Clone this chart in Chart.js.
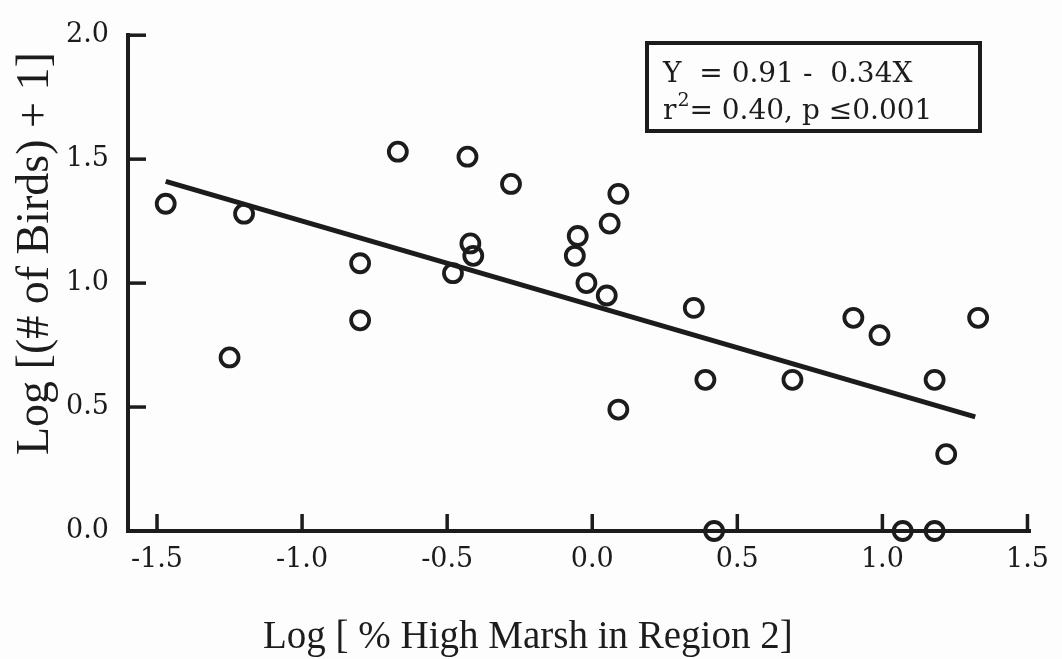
<!DOCTYPE html>
<html>
<head>
<meta charset="utf-8">
<script src="https://cdn.jsdelivr.net/npm/chart.js@4/dist/chart.umd.min.js"></script>
<style>
  html, body { margin: 0; padding: 0; background: #fdfdfd; }
  canvas { display: block; }
</style>
</head>
<body>
<canvas id="marsh" width="1062" height="659"></canvas>
<script>
// Values
const marshPct = [-1.47, -1.20, -1.25, -0.80, -0.67, -0.48, -0.43, -0.42, -0.41, -0.28,
                  -0.06, -0.05, -0.02, 0.05, 0.06, 0.09, 0.09, 0.35, 0.39, 0.42,
                  0.69, 0.90, 0.99, 1.33, 1.18, 1.22, 1.07, 1.18, -0.80];
const birds = [1.32, 1.28, 0.70, 1.08, 1.53, 1.04, 1.51, 1.16, 1.11, 1.40,
               1.11, 1.19, 1.00, 0.95, 1.24, 1.36, 0.49, 0.90, 0.61, 0.00,
               0.61, 0.86, 0.79, 0.86, 0.61, 0.31, 0.00, 0.00, 0.85];

// regression line ends (Y = 0.91 - 0.34X)
const fitX = [-1.47, 1.32];
const fitY = [1.41, 0.46];

const xTicks = [-1.5, -1.0, -0.5, 0.0, 0.5, 1.0, 1.5];
const yTicks = [0.0, 0.5, 1.0, 1.5, 2.0];

const ink = '#1c1c1c';

Chart.defaults.font.family = '"DejaVu Serif", serif';
Chart.defaults.color = ink;

// tick marks point into the plot, like the original
const innerTicks = {
    id: 'innerTicks',
    beforeDatasetsDraw(chart) {
        const { ctx, chartArea: a, scales: { x, y } } = chart;
        ctx.save();
        ctx.strokeStyle = ink;
        ctx.lineWidth = 3.5;
        xTicks.forEach(v => {
            const px = x.getPixelForValue(v);
            ctx.beginPath();
            ctx.moveTo(px, a.bottom);
            ctx.lineTo(px, a.bottom - 17);
            ctx.stroke();
        });
        yTicks.forEach(v => {
            const py = y.getPixelForValue(v);
            ctx.beginPath();
            ctx.moveTo(a.left, py);
            ctx.lineTo(a.left + 18, py);
            ctx.stroke();
        });
        ctx.restore();
    }
};

// axis titles and the equation box
const labels = {
    id: 'labels',
    afterDraw(chart) {
        const ctx = chart.ctx;
        ctx.save();
        ctx.fillStyle = ink;
        ctx.textBaseline = 'alphabetic';
        ctx.textAlign = 'left';

        // x title
        ctx.font = '39px "Liberation Serif"';
        ctx.fillText('Log [ % High Marsh in Region 2]', 263, 648);

        // y title
        ctx.save();
        ctx.translate(48, 455);
        ctx.rotate(-Math.PI / 2);
        ctx.font = '46px "Liberation Serif"';
        ctx.fillText('Log [(# of Birds) + 1]', 0, 0);
        ctx.restore();

        // equation box
        ctx.strokeStyle = ink;
        ctx.lineWidth = 4;
        ctx.strokeRect(647, 43, 333, 88);
        ctx.font = '28px "DejaVu Serif"';
        ctx.fillText('Y  = 0.91 -  0.34X', 663, 82);
        ctx.fillText('r', 663, 119);
        const rw = ctx.measureText('r').width;
        ctx.font = '19px "DejaVu Serif"';
        ctx.fillText('2', 663 + rw + 1, 106);
        ctx.font = '28px "DejaVu Serif"';
        ctx.fillText('= 0.40, p \u22640.001', 663 + rw + 13, 119);
        ctx.restore();
    }
};

const ctx = document.getElementById('marsh').getContext('2d');

const marshChart = new Chart(ctx, {
    type: 'scatter',
    data: {
        datasets: [{
            label: 'sites',
            data: marshPct.map((v, i) => ({ x: v, y: birds[i] })),
            pointStyle: 'circle',
            pointRadius: 9,
            pointHoverRadius: 9,
            borderWidth: 3.8,
            borderColor: ink,
            backgroundColor: 'rgba(0,0,0,0)',
            clip: false
        }, {
            label: 'fit',
            data: fitX.map((v, i) => ({ x: v, y: fitY[i] })),
            showLine: true,
            borderColor: ink,
            borderWidth: 5,
            pointRadius: 0,
            clip: false
        }]
    },
    options: {
        responsive: false,
        animation: false,
        devicePixelRatio: 1,
        layout: { padding: { top: 30, right: 22, left: 0, bottom: 0 } },
        plugins: {
            legend: { display: false },
            tooltip: { enabled: false }
        },
        scales: {
            x: {
                type: 'linear',
                min: -1.6,
                max: 1.51,
                afterFit(s) { s.height = 128; },
                grid: { display: false, drawTicks: false },
                border: { display: true, color: ink, width: 4 },
                ticks: {
                    stepSize: 0.5,
                    includeBounds: false,
                    padding: 13,
                    font: { size: 27 },
                    callback: v => v.toFixed(1)
                }
            },
            y: {
                type: 'linear',
                min: 0,
                max: 2,
                afterFit(s) { s.width = 128; },
                grid: { display: false, drawTicks: false },
                border: { display: true, color: ink, width: 4 },
                ticks: {
                    stepSize: 0.5,
                    padding: 19,
                    font: { size: 27 },
                    callback: v => v.toFixed(1)
                }
            }
        }
    },
    plugins: [innerTicks, labels]
});
</script>
</body>
</html>
